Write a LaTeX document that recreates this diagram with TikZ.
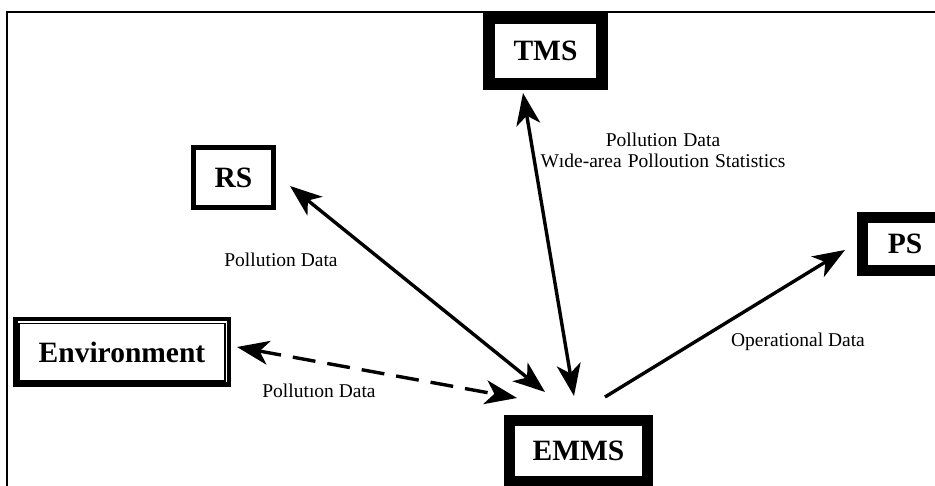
\documentclass[tikz,border=0pt]{standalone}
\usepackage{fontspec}
\setmainfont{Liberation Serif}
\usetikzlibrary{arrows.meta}

\tikzset{
  tip/.tip={Stealth[length=32pt,width=24pt,inset=9pt]},
  sysbox/.style={draw, inner sep=0pt, line width=#1,
    font=\bfseries\fontsize{29.5}{30}\selectfont},
  flow/.style={line width=3.4pt, tip-tip},
  oneway/.style={line width=3.4pt, -tip},
  dashflow/.style={flow, dash pattern=on 23pt off 12pt},
  lbl/.style={inner sep=0pt, font=\fontsize{19.5}{21}\selectfont, align=center},
}
\newcommand{\wsp}{\hspace{6pt}}

\begin{document}
\begin{tikzpicture}[x=1pt,y=1pt]
\useasboundingbox (0,0) rectangle (935,-486);
\clip (0,0) rectangle (935,-486);
\fill[white] (0,0) rectangle (935,-486);

% outer frame (top and left edges)
\draw[line width=2pt] (7,-490) -- (7,-12) -- (940,-12);

% systems
\node[sysbox=12pt, minimum width=113pt, minimum height=66pt] (tms) at (545.5,-51) {TMS};
\node[sysbox=5pt, minimum width=80pt, minimum height=60pt] (rs) at (233.5,-177.5) {RS};
\node[sysbox=11pt, minimum width=85pt, minimum height=53pt] (ps) at (905,-244) {PS};
\node[sysbox=11pt, minimum width=138pt, minimum height=61pt] (emms) at (578.5,-451) {EMMS};
\node[sysbox=4.5pt, minimum width=213.5pt, minimum height=65.5pt] (env) at (122,-352) {Environment};
\draw[line width=1.6pt] ([shift={(6,-6.5)}]env.north west) rectangle ([shift={(-6,6)}]env.south east);

% data flows
\draw[flow] ([xshift=-22.5pt,yshift=-3pt]tms.south) -- ([xshift=-4.5pt,yshift=19pt]emms.north);
\draw[flow] ([xshift=14pt,yshift=-8.5pt]rs.east) -- ([xshift=-33.5pt,yshift=23pt]emms.north);
\draw[dashflow] ([xshift=6pt,yshift=5pt]env.east) -- ([xshift=-61.5pt,yshift=17pt]emms.north);
\draw[oneway] ([xshift=26.5pt,yshift=18pt]emms.north) -- ([xshift=-12pt,yshift=-6pt]ps.west);

% flow labels
\node[lbl] (ltms) at (663,-150) {Pollution\wsp Data\\W{\i}de-area\wsp Polloution\wsp Statistics};
\node[lbl] (lrs) at (281,-260) {Pollution Data};
\node[lbl] (lenv) at (319,-391) {Pollut{\i}on Data};
\node[lbl] (lps) at (798,-342) {Operational Data};
\end{tikzpicture}
\end{document}
